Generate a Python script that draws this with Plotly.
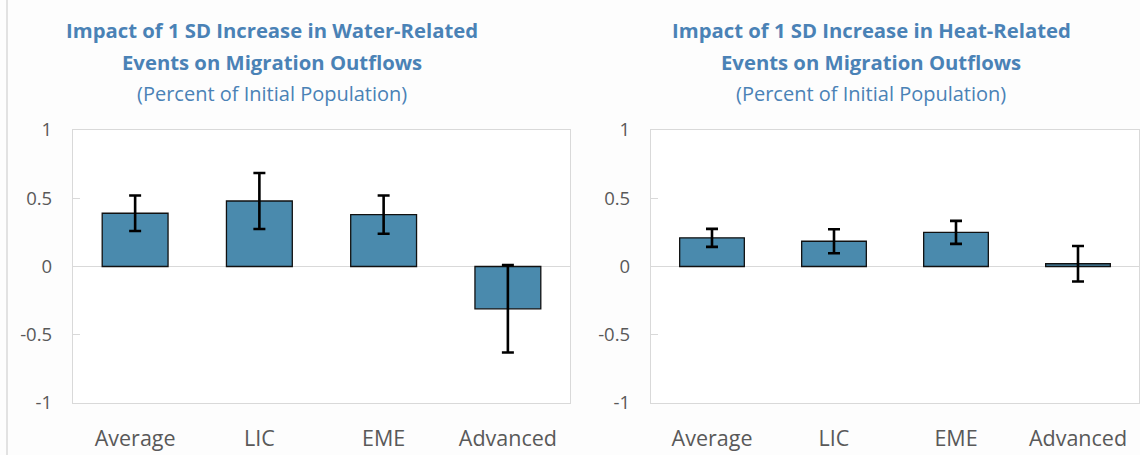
import plotly.graph_objects as go

# Categories and estimates (percent of initial population), with error half-widths
categories = ["Average", "LIC", "EME", "Advanced"]
water_impact = [0.39, 0.48, 0.38, -0.31]
water_err = [0.13, 0.205, 0.14, 0.32]
heat_impact = [0.21, 0.185, 0.25, 0.02]
heat_err = [0.066, 0.088, 0.084, 0.13]

y_ticks = [-1, -0.5, 0, 0.5, 1]
y_tick_text = ["-1", "-0.5", "0", "0.5", "1"]

titles = [
    ("Impact of 1 SD Increase in Water-Related", "Events on Migration Outflows"),
    ("Impact of 1 SD Increase in Heat-Related", "Events on Migration Outflows"),
]
subtitle = "(Percent of Initial Population)"

W, H = 1140, 455
BAR = "#4a8aad"
TITLE_C = "#4a82b6"
GRID = "#d9d9d9"
TICK_C = "#595959"
FONT = "Open Sans"

def px_x(p):
    return p / W

def px_y(p):
    return 1 - p / H

fig = go.Figure()

for i, (vals, errs) in enumerate([(water_impact, water_err), (heat_impact, heat_err)]):
    sfx = "" if i == 0 else "2"
    fig.add_trace(go.Bar(
        x=categories, y=vals,
        xaxis="x" + sfx, yaxis="y" + sfx,
        marker=dict(color=BAR, line=dict(color="#111111", width=1.3)),
        error_y=dict(type="data", array=errs, visible=True,
                     color="#000000", thickness=2.6, width=6),
        showlegend=False,
    ))

y_dom = [px_y(403), px_y(130)]
zero_pos = y_dom[0] + (y_dom[1] - y_dom[0]) / 2
x_doms = [[px_x(73), px_x(570)], [px_x(651), px_x(1139)]]

layout = dict(
    width=W, height=H,
    margin=dict(l=0, r=0, t=0, b=0, autoexpand=False),
    paper_bgcolor="#fdfdfd",
    plot_bgcolor="#ffffff",
    font=dict(family=FONT, color=TICK_C),
    bargap=0.47,
)

for i in range(2):
    sfx = "" if i == 0 else str(i + 1)
    layout["xaxis" + sfx] = dict(
        domain=x_doms[i], anchor="y" + sfx, type="category",
        categoryorder="array", categoryarray=categories,
        range=[-0.5, 3.5],
        showline=True, linecolor=GRID, linewidth=1.3, mirror=True,
        ticks="", showgrid=False,
        tickfont=dict(size=21.5, color=TICK_C, family=FONT),
        ticklabelstandoff=16,
    )
    layout["yaxis" + sfx] = dict(
        domain=y_dom, anchor="x" + sfx, range=[-1, 1],
        tickvals=y_ticks, ticktext=y_tick_text,
        showline=True, linecolor=GRID, linewidth=1.3, mirror=True,
        ticks="inside", ticklen=7, tickcolor=GRID, tickwidth=1.3,
        showgrid=False, zeroline=True, zerolinecolor=GRID, zerolinewidth=1.3,
        tickfont=dict(size=18.5, color=TICK_C, family=FONT),
        ticklabelstandoff=16,
    )
    # tick marks between categories along the zero line
    sfx_t = str(i + 3)
    layout["xaxis" + sfx_t] = dict(
        domain=x_doms[i], anchor="free", position=zero_pos,
        overlaying="x" + sfx, range=[-0.5, 3.5],
        tickvals=[0.5, 1.5, 2.5], ticks="inside", ticklen=8,
        tickcolor=GRID, tickwidth=1.3,
        showticklabels=False, showgrid=False, showline=False, zeroline=False,
    )

fig.update_layout(**layout)

centers = [272, 871]
for c, (l1, l2) in zip(centers, titles):
    for text, yc, bold, size in [(l1, 30, True, 20.3), (l2, 62, True, 20.3), (subtitle, 94, False, 20)]:
        fig.add_annotation(
            x=px_x(c), y=px_y(yc), xref="paper", yref="paper",
            xanchor="center", yanchor="middle", showarrow=False,
            text=f"<b>{text}</b>" if bold else text,
            font=dict(size=size, color=TITLE_C, family=FONT),
        )

# thin frame line on the left edge of the figure
fig.add_shape(type="line", xref="paper", yref="paper",
              x0=px_x(7), x1=px_x(7), y0=0, y1=1,
              line=dict(color=GRID, width=1.5))

fig.write_html("out.html")
